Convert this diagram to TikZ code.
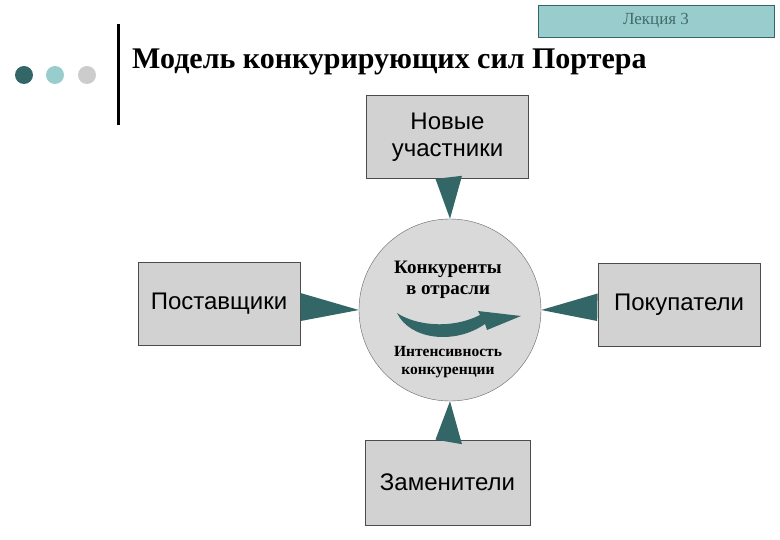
\documentclass[tikz,border=0pt]{standalone}
\usepackage{fontspec}
\setmainfont{Liberation Serif}
\setsansfont{Liberation Sans}
\begin{document}
\begin{tikzpicture}[x=1pt,y=-1pt,
  box/.style={draw=black!70,fill=gray!35,line width=0.8pt,minimum width=162pt,minimum height=83pt,font=\sffamily\fontsize{24}{27}\selectfont,align=center},
  tri/.style={fill=teal!60!black!85}]
\definecolor{dteal}{HTML}{336666}
\definecolor{lteal}{HTML}{99CCCC}
\useasboundingbox (0,0) rectangle (780,540);
\fill[white] (0,0) rectangle (780,540);
\node[draw=dteal,fill=lteal,minimum width=236pt,minimum height=32pt,text=dteal!80!gray,font=\fontsize{17}{19}\selectfont] (lec) at (656,21) {Лекция 3};
\draw[line width=3pt] (118,24) -- (118,125);
\fill[dteal] (24,75) circle (9);
\fill[lteal] (55,75) circle (9);
\fill[gray!40] (87,75) circle (9);
\node[anchor=west,font=\bfseries\fontsize{30}{33}\selectfont,inner sep=0] (title) at (132,62) {Модель конкурирующих сил Портера};
\node[box] (top) at (447.5,137) {Новые\\участники};
\node[box] (left) at (219,304) {Поставщики};
\node[box] (right) at (679,304.5) {Покупатели};
\node[box,minimum width=165pt,minimum height=85pt] (bot) at (447.5,482.5) {Заменители};
\node[circle,draw=black!60,fill=gray!30,minimum size=182pt,inner sep=0] (c) at (450,310) {};
\fill[dteal] (top.south)++(-12,0) -- (c.north) -- ++(12,-43) -- cycle;
\fill[dteal] (left.east)++(0,-11) -- (c.west) -- ++(-58,11) -- cycle;
\fill[dteal] (right.west)++(0,-11) -- (c.east) -- ++(56,11) -- cycle;
\fill[dteal] (bot.north)++(-12,0) -- (c.south) -- ++(12,43) -- cycle;
\node[font=\bfseries\fontsize{19}{21}\selectfont,align=center] (t1) at (448,280) {Конкуренты\\в отрасли};
\node[font=\bfseries\fontsize{15.5}{18}\selectfont,align=center] (t2) at (448,362) {Интенсивность\\конкуренции};
\fill[dteal] (397,313) .. controls (415,325) and (450,330) .. (480,315) -- (478,311) -- (521,316) -- (487,330)
  -- (485,324) .. controls (455,345) and (410,340) .. (397,313) -- cycle;
\end{tikzpicture}
\end{document}
